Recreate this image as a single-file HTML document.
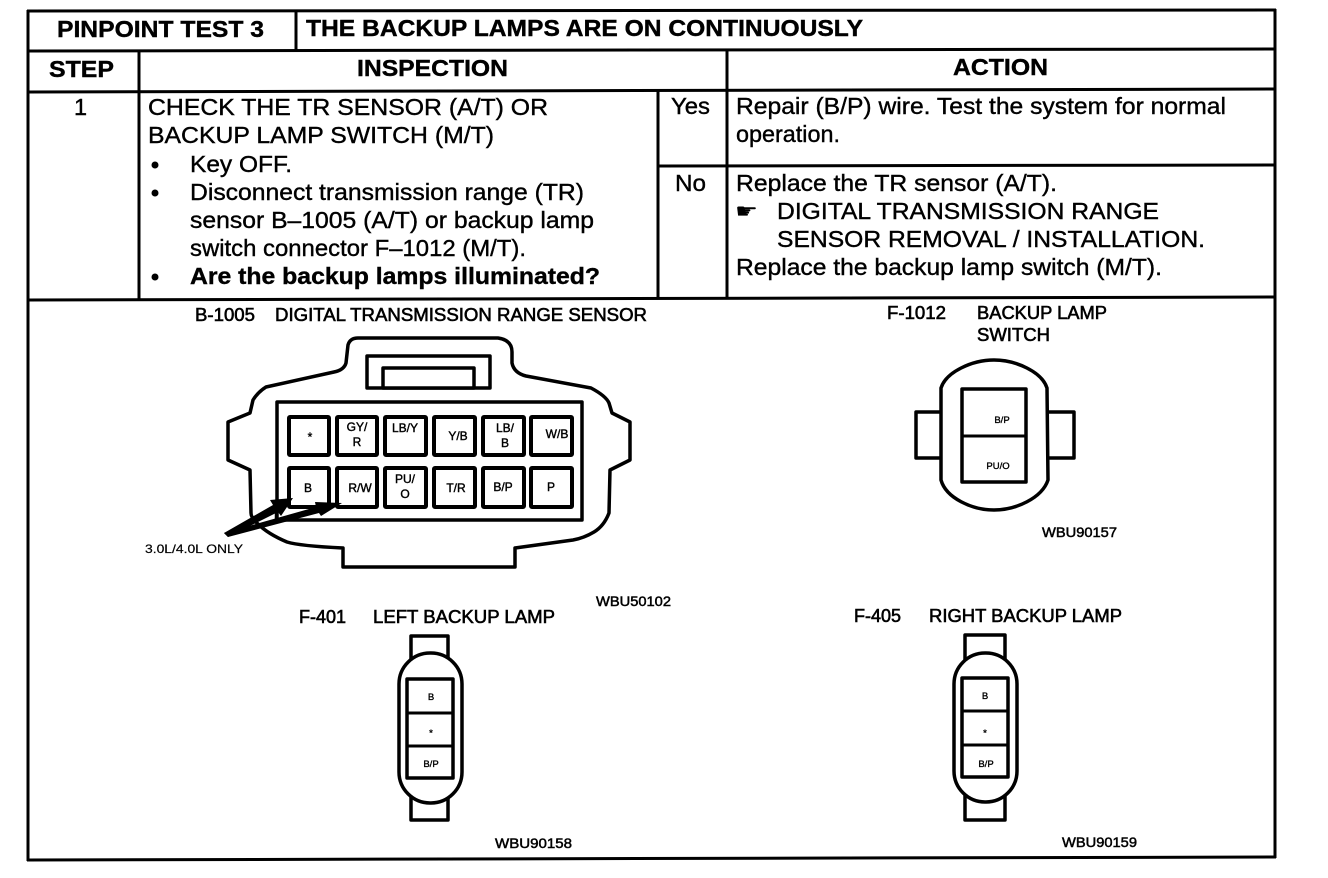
<!DOCTYPE html>
<html>
<head>
<meta charset="utf-8">
<style>
html,body{margin:0;padding:0;background:#fff;width:1328px;height:878px;overflow:hidden}
svg{display:block}
text{font-family:"Liberation Sans",sans-serif;fill:#000}
.t{font-size:23.5px;stroke:#000;stroke-width:.4}
.b{font-size:23.5px;font-weight:bold;stroke:#000;stroke-width:.4}
.l{font-size:18px;stroke:#000;stroke-width:.6}
.w{font-size:14px;stroke:#000;stroke-width:.5}
.c{font-size:12px;text-anchor:middle;stroke:#000;stroke-width:.4}
.s{font-size:9.5px;text-anchor:middle;stroke:#000;stroke-width:.35}
.ln line{stroke:#000;stroke-width:3}
.d{fill:#fff;stroke:#000;stroke-width:3.5;stroke-linejoin:round}
.cell{fill:#fff;stroke:#000;stroke-width:4}
</style>
</head>
<body>
<svg width="1328" height="878" viewBox="0 0 1328 878" xmlns="http://www.w3.org/2000/svg">
<rect width="1328" height="878" fill="#fff"/>
<g class="ln">
<line x1="27" y1="11" x2="1276" y2="10"/>
<line x1="27" y1="51" x2="1276" y2="49"/>
<line x1="27" y1="92" x2="1276" y2="89"/>
<line x1="27" y1="300" x2="1276" y2="297"/>
<line x1="27" y1="860" x2="1276" y2="857"/>
<line x1="28" y1="10" x2="28" y2="861"/>
<line x1="1275" y1="9" x2="1275" y2="858"/>
<line x1="296" y1="11" x2="296" y2="51"/>
<line x1="139" y1="51" x2="139" y2="300"/>
<line x1="727" y1="49" x2="727" y2="298"/>
<line x1="658" y1="91" x2="658" y2="299"/>
<line x1="658" y1="166" x2="1276" y2="165"/>
</g>

<text class="b" x="57" y="37" textLength="207" lengthAdjust="spacingAndGlyphs">PINPOINT TEST 3</text>
<text class="b" x="306" y="36" textLength="557" lengthAdjust="spacingAndGlyphs">THE BACKUP LAMPS ARE ON CONTINUOUSLY</text>
<text class="b" x="49" y="77" textLength="65" lengthAdjust="spacingAndGlyphs">STEP</text>
<text class="b" x="357" y="76" textLength="151" lengthAdjust="spacingAndGlyphs">INSPECTION</text>
<text class="b" x="953" y="75" textLength="95" lengthAdjust="spacingAndGlyphs">ACTION</text>

<text class="t" x="74" y="115">1</text>
<text class="t" x="148" y="115" textLength="400" lengthAdjust="spacingAndGlyphs">CHECK THE TR SENSOR (A/T) OR</text>
<text class="t" x="148" y="143" textLength="346" lengthAdjust="spacingAndGlyphs">BACKUP LAMP SWITCH (M/T)</text>
<circle cx="155" cy="165" r="3.5"/>
<text class="t" x="190" y="172" textLength="102" lengthAdjust="spacingAndGlyphs">Key OFF.</text>
<circle cx="155" cy="193" r="3.5"/>
<text class="t" x="190" y="200" textLength="394" lengthAdjust="spacingAndGlyphs">Disconnect transmission range (TR)</text>
<text class="t" x="190" y="228" textLength="404" lengthAdjust="spacingAndGlyphs">sensor B–1005 (A/T) or backup lamp</text>
<text class="t" x="190" y="256" textLength="336" lengthAdjust="spacingAndGlyphs">switch connector F–1012 (M/T).</text>
<circle cx="155" cy="277" r="3.5"/>
<text class="b" x="190" y="284" textLength="410" lengthAdjust="spacingAndGlyphs">Are the backup lamps illuminated?</text>

<text class="t" x="671" y="114" textLength="39" lengthAdjust="spacingAndGlyphs">Yes</text>
<text class="t" x="675" y="191" textLength="31" lengthAdjust="spacingAndGlyphs">No</text>
<text class="t" x="736" y="114" textLength="490" lengthAdjust="spacingAndGlyphs">Repair (B/P) wire. Test the system for normal</text>
<text class="t" x="736" y="142" textLength="104" lengthAdjust="spacingAndGlyphs">operation.</text>
<text class="t" x="736" y="191" textLength="321" lengthAdjust="spacingAndGlyphs">Replace the TR sensor (A/T).</text>
<text x="735" y="218" style="font-family:'DejaVu Sans',sans-serif;font-size:20px" textLength="23" lengthAdjust="spacingAndGlyphs">☛</text>
<text class="t" x="777" y="219" textLength="382" lengthAdjust="spacingAndGlyphs">DIGITAL TRANSMISSION RANGE</text>
<text class="t" x="777" y="247" textLength="428" lengthAdjust="spacingAndGlyphs">SENSOR REMOVAL / INSTALLATION.</text>
<text class="t" x="736" y="275" textLength="426" lengthAdjust="spacingAndGlyphs">Replace the backup lamp switch (M/T).</text>

<!-- B-1005 -->
<text class="l" x="195" y="321" textLength="60" lengthAdjust="spacingAndGlyphs">B-1005</text>
<text class="l" x="275" y="321" textLength="372" lengthAdjust="spacingAndGlyphs">DIGITAL TRANSMISSION RANGE SENSOR</text>
<path class="d" d="M346,363 L348,345 Q350,338 358,338 L498,338 Q512,340 512,352 L512,363 Q514,373 526,376 L591,388 Q606,396 609,403 L612,413 L630,422 L630,460 L610,470 L609,513 Q604,526 594,532 Q584,538 573,540 L515,548 L515,567 L343,567 L343,548 Q300,546 287,542 Q268,534 258,524 Q251,518 251,513 L250,470 L228,460 L228,422 L250,413 L253,400 Q258,392 266,387 L334,372 Q344,370 346,363 Z"/>
<rect class="d" x="367" y="356" width="123" height="32"/>
<rect class="d" x="383" y="368" width="91" height="20"/>
<rect class="d" x="277" y="402" width="305" height="118"/>
<g class="cell">
<rect x="289" y="417" width="40" height="38" rx="1"/>
<rect x="337" y="417" width="40" height="38" rx="1"/>
<rect x="385" y="417" width="41" height="38" rx="1"/>
<rect x="434" y="417" width="41" height="38" rx="1"/>
<rect x="483" y="417" width="41" height="38" rx="1"/>
<rect x="531" y="417" width="41" height="38" rx="1"/>
<rect x="289" y="468" width="40" height="39" rx="1"/>
<rect x="337" y="468" width="40" height="39" rx="1"/>
<rect x="385" y="468" width="41" height="39" rx="1"/>
<rect x="434" y="468" width="41" height="39" rx="1"/>
<rect x="483" y="468" width="41" height="39" rx="1"/>
<rect x="531" y="468" width="41" height="39" rx="1"/>
</g>
<text class="c" x="310" y="441">*</text>
<text class="c" x="357" y="431">GY/</text><text class="c" x="357" y="446">R</text>
<text class="c" x="405" y="432">LB/Y</text>
<text class="c" x="458" y="440">Y/B</text>
<text class="c" x="505" y="432">LB/</text><text class="c" x="505" y="447">B</text>
<text class="c" x="557" y="438">W/B</text>
<text class="c" x="308" y="492">B</text>
<text class="c" x="360" y="492">R/W</text>
<text class="c" x="405" y="483">PU/</text><text class="c" x="405" y="498">O</text>
<text class="c" x="456" y="492">T/R</text>
<text class="c" x="503" y="491">B/P</text>
<text class="c" x="551" y="491">P</text>
<path d="M224,533 L273,505 L270,500 L293,498 L281,516 L278,512 L228,537 Z"/>
<path d="M224,533 L316,507 L315,502 L342,503 L321,516 L319,513 L228,537 Z"/>
<line x1="276" y1="510" x2="276" y2="520" stroke="#000" stroke-width="2.5"/>
<text x="145" y="553" style="font-size:12px;stroke:#000;stroke-width:.2" textLength="98" lengthAdjust="spacingAndGlyphs">3.0L/4.0L ONLY</text>
<text class="w" x="596" y="606" textLength="75" lengthAdjust="spacingAndGlyphs">WBU50102</text>

<!-- F-1012 -->
<text class="l" x="887" y="319" textLength="59" lengthAdjust="spacingAndGlyphs">F-1012</text>
<text class="l" x="977" y="319" textLength="130" lengthAdjust="spacingAndGlyphs">BACKUP LAMP</text>
<text class="l" x="977" y="341" textLength="73" lengthAdjust="spacingAndGlyphs">SWITCH</text>
<rect class="d" x="916" y="412" width="30" height="46"/>
<rect class="d" x="1044" y="412" width="30" height="46"/>
<path class="d" d="M941,388 C946,372 972,360 994,360 C1016,360 1042,372 1047,388 L1048,480 C1042,498 1016,510 994,510 C972,510 946,498 941,480 Z"/>
<rect class="d" x="962" y="389" width="64" height="93"/>
<line x1="962" y1="436" x2="1026" y2="436" stroke="#000" stroke-width="3"/>
<text class="s" x="1002" y="423">B/P</text>
<text class="s" x="998" y="469">PU/O</text>
<text class="w" x="1042" y="537" textLength="75" lengthAdjust="spacingAndGlyphs">WBU90157</text>

<!-- F-401 -->
<text class="l" x="299" y="623" textLength="47" lengthAdjust="spacingAndGlyphs">F-401</text>
<text class="l" x="373" y="623" textLength="182" lengthAdjust="spacingAndGlyphs">LEFT BACKUP LAMP</text>
<rect class="d" x="411" y="636" width="37" height="184"/>
<rect class="d" x="399" y="653" width="63" height="150" rx="31" ry="31"/>
<rect class="d" x="407" y="679" width="46" height="99"/>
<line x1="407" y1="713" x2="453" y2="713" stroke="#000" stroke-width="3"/>
<line x1="407" y1="746" x2="453" y2="746" stroke="#000" stroke-width="3"/>
<text class="s" x="431" y="700">B</text>
<text class="s" x="431" y="736">*</text>
<text class="s" x="431" y="767">B/P</text>
<text class="w" x="495" y="848" textLength="77" lengthAdjust="spacingAndGlyphs">WBU90158</text>

<!-- F-405 -->
<text class="l" x="854" y="622" textLength="47" lengthAdjust="spacingAndGlyphs">F-405</text>
<text class="l" x="929" y="622" textLength="193" lengthAdjust="spacingAndGlyphs">RIGHT BACKUP LAMP</text>
<rect class="d" x="965" y="635" width="40" height="185"/>
<rect class="d" x="954" y="653" width="63" height="149" rx="31" ry="31"/>
<rect class="d" x="962" y="678" width="46" height="99"/>
<line x1="962" y1="711" x2="1008" y2="711" stroke="#000" stroke-width="3"/>
<line x1="962" y1="745" x2="1008" y2="745" stroke="#000" stroke-width="3"/>
<text class="s" x="985" y="699">B</text>
<text class="s" x="985" y="736">*</text>
<text class="s" x="986" y="767">B/P</text>
<text class="w" x="1062" y="847" textLength="75" lengthAdjust="spacingAndGlyphs">WBU90159</text>
</svg>
</body>
</html>
